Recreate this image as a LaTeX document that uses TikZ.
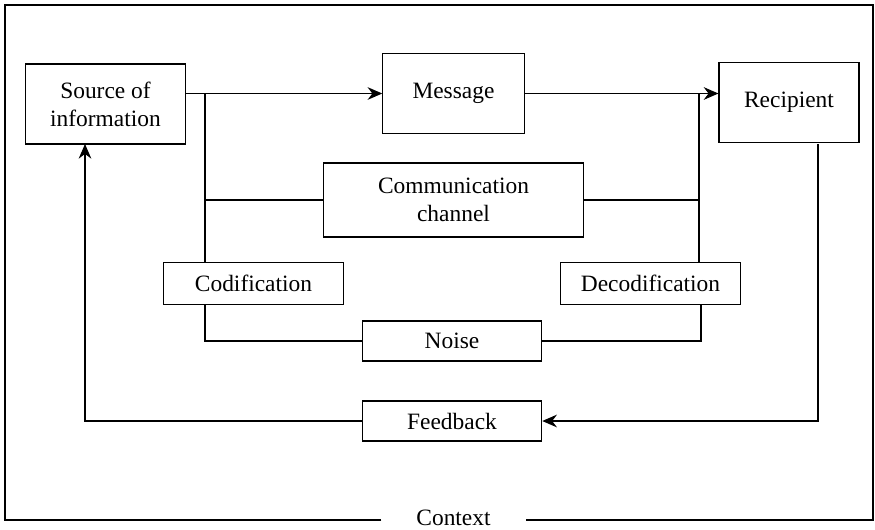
\documentclass[tikz,border=0pt]{standalone}
\usepackage{fontspec}
\setmainfont{Liberation Serif}
\usetikzlibrary{arrows.meta}
\tikzset{every node/.style={shape=rectangle,draw,line width=0.5pt,inner sep=2pt,align=center,font=\fontsize{10}{12}\selectfont}}

\begin{document}
\begin{tikzpicture}[x=0.015cm,y=-0.015cm,line width=0.5pt]
\useasboundingbox (0,0) rectangle (875,529);

\tikzstyle{big}=[minimum width=2.39cm,minimum height=1.2cm]
\tikzstyle{small}=[minimum width=2.69cm,minimum height=0.62cm]
\tikzstyle{a}=[-{Stealth[length=2.2mm,width=1.9mm]}]

\node[big] (src) at (105.5,104) {Source of\\information};
\node[big,minimum width=2.12cm] (msg) at (453.5,93.5) {Message};
\node[big,minimum width=2.1cm] (rec) at (789,102.5) {Recipient};
\node[minimum width=3.89cm,minimum height=1.11cm] (chan) at (453.5,200) {Communication\\channel};

\node[small] (cod) at (253.5,283.5) {Codification};
\node[small] (dec) at (650.5,283.5) {Decodification};
\node[small,minimum height=0.6cm] (noise) at (452,341) {Noise};
\node[small,minimum height=0.6cm] (fb) at (452,421) {Feedback};

\node[draw=none,minimum width=2.15cm] (ctx) at (453.5,518) {Context};

\coordinate (jl) at (205,94);
\coordinate (jr) at (699,94);
\coordinate (fr) at (818,144);
\coordinate (fl) at (85,144);

% sending line
\draw[a] (src.east |- msg.west) -- (msg.west);
\draw[a] (msg.east) -- (msg.east -| rec.west);
\draw (jl) -- (jl |- cod.north);
\draw (jr) -- (jr |- dec.north);
\draw (chan.west) -- (chan.west -| jl);
\draw (chan.east) -- (chan.east -| jr);

% noise
\draw (jl |- cod.south) |- (noise.west);
\draw (dec.south -| 701,0) |- (noise.east);

% feedback
\draw[a] (fr) |- (fb.east);
\draw[a] (fb.west) -| (fl);

% context
\draw (ctx.west |- 0,520) -| (5,5) -| (873,520) -- (ctx.east |- 0,520);

\end{tikzpicture}
\end{document}
